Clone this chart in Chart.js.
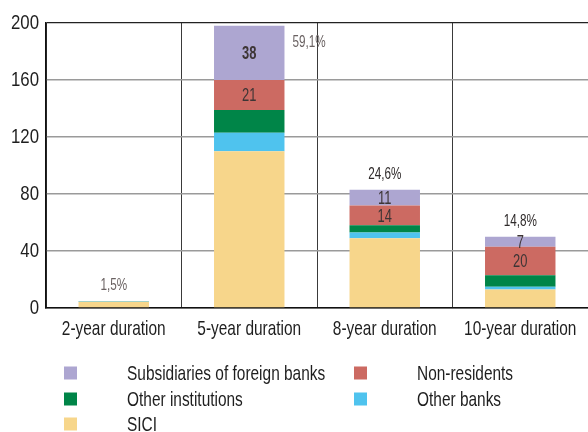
<!DOCTYPE html>
<html>
<head>
<meta charset="utf-8">
<script src="https://cdn.jsdelivr.net/npm/chart.js@4/dist/chart.umd.min.js"></script>
<style>
html,body{margin:0;padding:0;background:#fff;}
#wrap{width:588px;height:432px;}
</style>
</head>
<body>
<div id="wrap"><canvas id="c" width="588" height="432"></canvas></div>
<script>
const categories = ['2-year duration', '5-year duration', '8-year duration', '10-year duration'];
const sici = [4.4, 110, 49, 13];
const otherBanks = [0.3, 13, 4, 2];
const otherInstitutions = [0.3, 16, 5, 8];
const nonResidents = [0, 21, 14, 20];
const subsidiaries = [0, 38, 11, 7];
const shareLabels = ['1,5%', '59,1%', '24,6%', '14,8%'];
const yTicks = [0, 40, 80, 120, 160, 200];

const FONT = "'Liberation Sans', Arial, sans-serif";
Chart.defaults.font.family = FONT;

const datasets = [
  {label: 'SICI', data: sici, backgroundColor: '#F7D68B', showValues: false},
  {label: 'Other banks', data: otherBanks, backgroundColor: '#4FC3EE', showValues: false},
  {label: 'Other institutions', data: otherInstitutions, backgroundColor: '#008548', showValues: false},
  {label: 'Non-residents', data: nonResidents, backgroundColor: '#CC6A62', showValues: true},
  {label: 'Subsidiaries of foreign banks', data: subsidiaries, backgroundColor: '#ADA6D1', showValues: true, bold: true}
];

const legendOrder = [
  {ds: 4, col: 0, row: 0},
  {ds: 3, col: 1, row: 0},
  {ds: 2, col: 0, row: 1},
  {ds: 1, col: 1, row: 1},
  {ds: 0, col: 0, row: 2}
];

function drawText(ctx, text, x, y, o) {
  ctx.save();
  ctx.font = (o.bold ? 'bold ' : '') + o.size + 'px ' + FONT;
  ctx.fillStyle = o.color || '#1e1e1e';
  ctx.textBaseline = 'middle';
  ctx.textAlign = o.align || 'center';
  ctx.translate(x, y);
  ctx.scale(o.sx || 1, 1);
  ctx.fillText(text, 0, 0);
  ctx.restore();
}

const labelsPlugin = {
  id: 'labelsPlugin',
  afterDatasetsDraw(chart) {
    const ctx = chart.ctx;
    chart.data.datasets.forEach((ds, di) => {
      if (!ds.showValues) return;
      const meta = chart.getDatasetMeta(di);
      meta.data.forEach((el, i) => {
        const v = ds.data[i];
        if (!v || v < 5) return;
        const yc = (el.y + el.base) / 2;
        drawText(ctx, String(v), el.x, yc + 1, {
          size: 19, sx: 0.68, color: '#3d3535', bold: ds.bold && i === 1
        });
      });
    });
    const topMeta = chart.getDatasetMeta(chart.data.datasets.length - 1);
    topMeta.data.forEach((el, i) => {
      const top = el.y;
      if (i === 1) {
        drawText(ctx, shareLabels[i], el.x + el.width / 2 + 8, top + 17,
          {size: 16.5, sx: 0.71, color: '#6a6262', align: 'left'});
      } else {
        drawText(ctx, shareLabels[i], el.x, top - 15,
          {size: 16.5, sx: 0.71, color: i === 0 ? '#6a6262' : '#2e2a2a'});
      }
    });
  },
  afterDraw(chart) {
    const ctx = chart.ctx;
    const xs = chart.scales.x, ys = chart.scales.y;
    // category labels
    categories.forEach((c, i) => {
      drawText(ctx, c, xs.getPixelForTick(i), 329, {size: 21, sx: 0.735, color: '#1e1e1e'});
    });
    // value axis labels
    yTicks.forEach(v => {
      drawText(ctx, String(v), 39, ys.getPixelForValue(v), {size: 21, sx: 0.8, color: '#1e1e1e', align: 'right'});
    });
    // legend
    const boxX = [64, 354], textX = [127, 417], rowY = [373, 399, 424];
    legendOrder.forEach(item => {
      const ds = chart.data.datasets[item.ds];
      const y = rowY[item.row];
      ctx.fillStyle = ds.backgroundColor;
      ctx.fillRect(boxX[item.col], y - 6.5, 13, 13);
      drawText(ctx, ds.label, textX[item.col], y + 1, {size: 21, sx: 0.735, color: '#1e1e1e', align: 'left'});
    });
  }
};

new Chart(document.getElementById('c'), {
  type: 'bar',
  data: {
    labels: categories,
    datasets: datasets.map(d => Object.assign({
      borderWidth: 0,
      categoryPercentage: 1,
      barPercentage: 0.52
    }, d))
  },
  options: {
    responsive: false,
    animation: false,
    layout: {padding: {top: 23, right: 0, bottom: 84, left: 0}},
    plugins: {legend: {display: false}, tooltip: {enabled: false}},
    scales: {
      x: {
        stacked: true,
        grid: {
          offset: true,
          color: '#3a3a3a',
          lineWidth: 1,
          drawTicks: false
        },
        border: {color: '#111', width: 1.5},
        ticks: {display: false},
        afterFit(scale) { scale.height = 40; }
      },
      y: {
        stacked: true,
        min: 0,
        max: 200,
        afterBuildTicks(scale) { scale.ticks = yTicks.map(v => ({value: v})); },
        grid: {
          color: ctx => (ctx.tick && ctx.tick.value === 200) ? '#222' : '#9a9a9a',
          lineWidth: ctx => (ctx.tick && ctx.tick.value === 200) ? 1.2 : 1.5,
          drawTicks: false
        },
        border: {color: '#111', width: 1.5},
        ticks: {display: false},
        afterFit(scale) { scale.width = 46; }
      }
    }
  },
  plugins: [labelsPlugin]
});
</script>
</body>
</html>
